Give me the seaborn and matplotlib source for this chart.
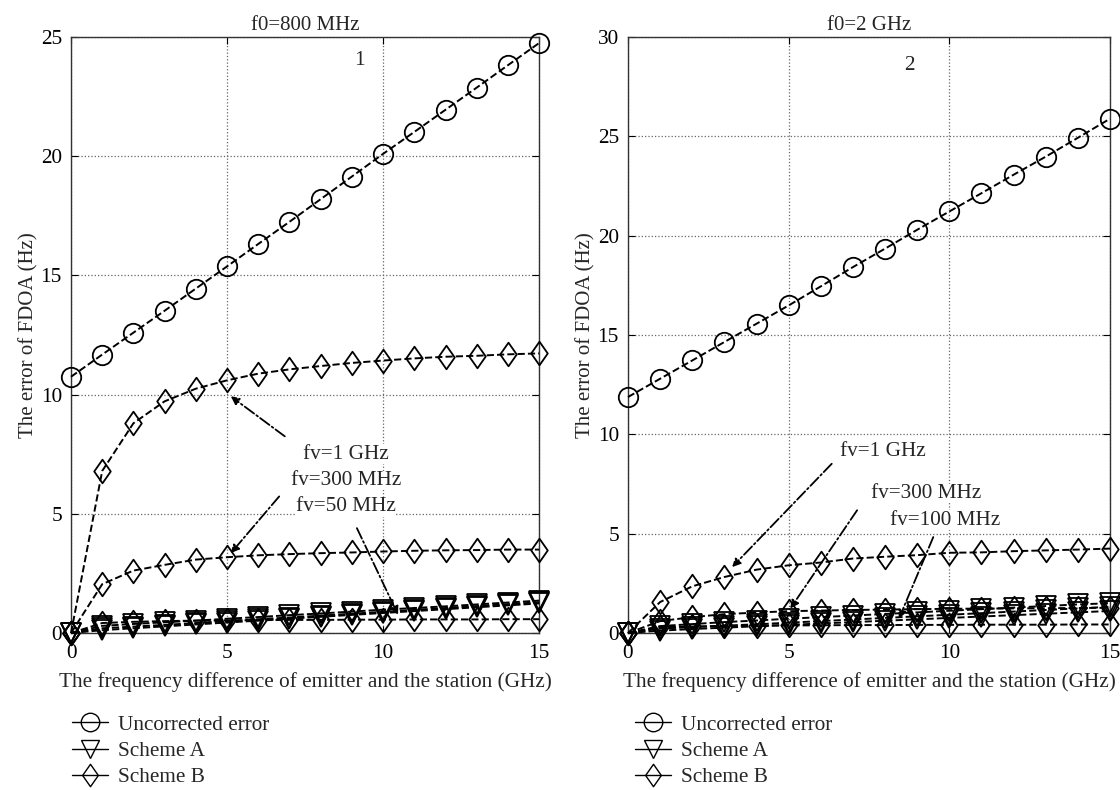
import matplotlib
matplotlib.use("Agg")
import matplotlib.pyplot as plt
from matplotlib.lines import Line2D
from matplotlib.path import Path
import seaborn as sns
import pandas as pd

# ---------------- data ----------------
x_ghz = list(range(16))

# Panel 1 : f0 = 800 MHz
unc_800 = [10.75, 11.68, 12.6, 13.52, 14.45, 15.38, 16.32, 17.25, 18.2, 19.15, 20.1, 21.02, 21.95, 22.88, 23.82, 24.75]
a_800_1g = [0.0, 0.3, 0.38, 0.45, 0.52, 0.6, 0.67, 0.75, 0.82, 0.9, 0.98, 1.05, 1.12, 1.2, 1.28, 1.36]
a_800_300m = [0.0, 0.2, 0.27, 0.34, 0.42, 0.5, 0.58, 0.65, 0.73, 0.81, 0.89, 0.97, 1.05, 1.13, 1.21, 1.29]
a_800_50m = [0.0, 0.12, 0.2, 0.28, 0.36, 0.44, 0.52, 0.6, 0.68, 0.76, 0.84, 0.92, 1.0, 1.08, 1.16, 1.24]
b_800_1g = [0.0, 6.8, 8.8, 9.72, 10.25, 10.6, 10.88, 11.06, 11.2, 11.33, 11.43, 11.52, 11.59, 11.63, 11.69, 11.73]
b_800_300m = [0.0, 2.05, 2.62, 2.86, 3.08, 3.18, 3.26, 3.31, 3.35, 3.38, 3.42, 3.45, 3.47, 3.48, 3.5, 3.5]
b_800_50m = [0.0, 0.42, 0.47, 0.5, 0.52, 0.53, 0.54, 0.55, 0.55, 0.56, 0.56, 0.57, 0.57, 0.57, 0.58, 0.58]

# Panel 2 : f0 = 2 GHz
unc_2g = [11.88, 12.8, 13.72, 14.65, 15.57, 16.49, 17.45, 18.42, 19.35, 20.3, 21.22, 22.14, 23.07, 23.98, 24.93, 25.89]
a_2g_1g = [0.0, 0.35, 0.45, 0.55, 0.63, 0.72, 0.8, 0.88, 0.96, 1.04, 1.12, 1.2, 1.28, 1.36, 1.44, 1.5]
a_2g_300m = [0.0, 0.22, 0.3, 0.37, 0.44, 0.52, 0.6, 0.68, 0.76, 0.84, 0.92, 1.0, 1.08, 1.16, 1.24, 1.32]
a_2g_100m = [0.0, 0.12, 0.2, 0.27, 0.34, 0.41, 0.48, 0.55, 0.62, 0.69, 0.76, 0.83, 0.9, 0.97, 1.04, 1.11]
b_2g_1g = [0.0, 1.56, 2.35, 2.82, 3.19, 3.41, 3.55, 3.75, 3.84, 3.92, 4.04, 4.06, 4.12, 4.16, 4.2, 4.25]
b_2g_300m = [0.0, 0.6, 0.8, 0.95, 1.03, 1.1, 1.13, 1.16, 1.18, 1.2, 1.22, 1.23, 1.24, 1.25, 1.26, 1.27]
b_2g_100m = [0.0, 0.3, 0.33, 0.35, 0.37, 0.38, 0.39, 0.4, 0.4, 0.41, 0.41, 0.42, 0.42, 0.42, 0.43, 0.43]

titles = ["f0=800 MHz", "f0=2 GHz"]
panel_labels = ["1", "2"]
panel_label_pos = [(9.24, 24.0), (8.77, 28.57)]
y_limits = [25, 30]
x_label = "The frequency difference of emitter and the station (GHz)"
y_label = "The error of FDOA (Hz)"
legend_labels = ["Uncorrected error", "Scheme A", "Scheme B"]

# (text, text_x, text_y, arrow_start_x, arrow_start_y, arrow_tip_x, arrow_tip_y)
ann_800 = [("fv=1 GHz", 8.8, 7.5, 6.85, 8.25, 5.12, 9.93),
           ("fv=300 MHz", 8.8, 6.4, 6.67, 5.73, 5.12, 3.35),
           ("fv=50 MHz", 8.8, 5.3, 9.16, 4.4, 10.48, 0.76)]
ann_2g = [("fv=1 GHz", 7.92, 9.12, 6.34, 8.52, 3.24, 3.32),
          ("fv=300 MHz", 9.27, 7.02, 7.13, 6.18, 5.05, 1.23),
          ("fv=100 MHz", 9.86, 5.67, 9.5, 4.83, 8.43, 0.72)]

# ---------------- style ----------------
sns.set_style("ticks")
plt.rcParams["font.family"] = ["Liberation Serif", "DejaVu Serif"]

diamond = Path([(0, 1), (0.7, 0), (0, -1), (-0.7, 0), (0, 1)],
               [Path.MOVETO, Path.LINETO, Path.LINETO, Path.LINETO, Path.CLOSEPOLY])
mk = {"unc": ("o", 14), "A": ("v", 14), "B": (diamond, 17)}

FS = 15.3

fig = plt.figure(figsize=(11.2, 7.9), dpi=100)
ax1 = fig.add_axes([0.0634, 0.1987, 0.418, 0.7544])
ax2 = fig.add_axes([0.5607, 0.1987, 0.4304, 0.7544])

panels = [
    (ax1, [("unc", unc_800), ("A", a_800_1g), ("A", a_800_300m), ("A", a_800_50m),
           ("B", b_800_1g), ("B", b_800_300m), ("B", b_800_50m)], ann_800, -0.016),
    (ax2, [("unc", unc_2g), ("A", a_2g_1g), ("A", a_2g_300m), ("A", a_2g_100m),
           ("B", b_2g_1g), ("B", b_2g_300m), ("B", b_2g_100m)], ann_2g, -0.003),
]

for i, (ax, series, anns, leg_x) in enumerate(panels):
    for kind, vals in series:
        df = pd.DataFrame({"x": x_ghz, "y": vals})
        m, ms = mk[kind]
        sns.lineplot(data=df, x="x", y="y", ax=ax, color="black", linestyle="--",
                     linewidth=1.4, marker=m, markersize=ms, markerfacecolor="none",
                     markeredgecolor="black", markeredgewidth=1.3, clip_on=False,
                     dashes=False, zorder=3)
    ax.set_xlim(0, 15)
    ax.set_ylim(0, y_limits[i])
    ax.set_xticks([0, 5, 10, 15])
    ax.set_yticks(list(range(0, y_limits[i] + 1, 5)))
    ax.grid(True, linestyle=":", color="0.4", linewidth=0.9)
    ax.tick_params(direction="in", length=5, labelsize=FS, top=True, right=True,
                   colors="black")
    ax.tick_params(axis="x", pad=8)
    ax.tick_params(axis="y", pad=6.5)
    for s in ax.spines.values():
        s.set_visible(True)
        s.set_color("0.2")
        s.set_linewidth(1.0)
    ax.set_xlabel(x_label, fontsize=FS, labelpad=6.5)
    ax.set_ylabel(y_label, fontsize=15, labelpad=1.5)
    ax.set_title(titles[i], fontsize=15, pad=5)
    px, py = panel_label_pos[i]
    ax.text(px, py, panel_labels[i], fontsize=FS, ha="center", va="center")
    for (txt, tx, ty, sx, sy, ex, ey) in anns:
        ax.text(tx, ty, txt, fontsize=FS, ha="center", va="center", zorder=5,
                bbox=dict(facecolor="white", edgecolor="none", pad=0.3))
        ax.annotate("", xy=(ex, ey), xytext=(sx, sy),
                    arrowprops=dict(arrowstyle="-|>", linestyle="-.", color="black",
                                    lw=1.3, mutation_scale=12, shrinkA=0, shrinkB=0),
                    zorder=4)

    handles = [Line2D([0], [0], color="black", linestyle="-", linewidth=1.0,
                      marker=mk[k][0], markersize=mk[k][1] * 0.95,
                      markerfacecolor="none", markeredgecolor="black",
                      markeredgewidth=1.0) for k in ["unc", "A", "B"]]
    ax.legend(handles, legend_labels, loc="upper left", bbox_to_anchor=(leg_x, -0.123),
              frameon=False, fontsize=FS, handlelength=1.7, handletextpad=0.45,
              labelspacing=0.3, borderaxespad=0)

fig.savefig("out.png", dpi=100)
